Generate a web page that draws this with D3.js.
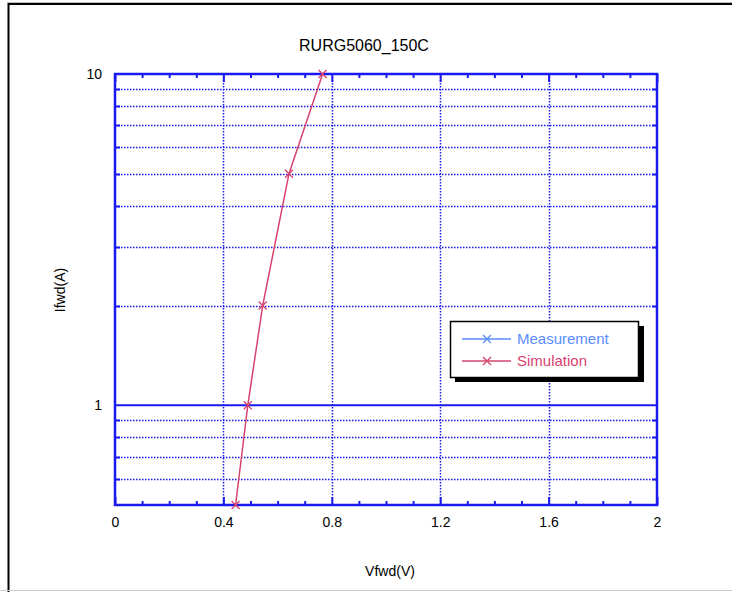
<!DOCTYPE html>
<html><head><meta charset="utf-8">
<script src="https://cdn.jsdelivr.net/npm/d3@7"></script>
<style>body{margin:0;background:#fff}svg{display:block}text{font-family:"Liberation Sans",Arial,sans-serif}</style>
</head><body><div id="c"></div>
<script>
const title = "RURG5060_150C";
const xLabel = "Vfwd(V)";
const yLabel = "Ifwd(A)";
const xTicks = [0, 0.4, 0.8, 1.2, 1.6, 2];
const yTickLabels = [1, 10];
const yGridMinor = [0.6, 0.7, 0.8, 0.9, 2, 3, 4, 5, 6, 7, 8, 9];
const simV = [0.445, 0.49, 0.545, 0.642, 0.766];
const simI = [0.5, 1, 2, 5, 10];
const measV = [];
const measI = [];
const legendNames = ["Measurement", "Simulation"];
const legendColors = ["#5a8cff", "#d8436e"];

const W = 732, H = 592;
const L = 115, R = 657, T = 74, B = 505;
const svg = d3.select("#c").append("svg").attr("width", W).attr("height", H);
// frame
svg.append("line").attr("x1",7).attr("x2",W).attr("y1",2.5).attr("y2",2.5).attr("stroke","#bbb");
svg.append("line").attr("x1",8.5).attr("x2",8.5).attr("y1",3).attr("y2",592).attr("stroke","#000").attr("stroke-width",2);
svg.append("line").attr("x1",8).attr("x2",W).attr("y1",4).attr("y2",4).attr("stroke","#000").attr("stroke-width",2);
svg.append("line").attr("x1",0).attr("x2",W).attr("y1",590.5).attr("y2",590.5).attr("stroke","#ccc");

const x = d3.scaleLinear().domain([0, 2]).range([L, R]);
const y = d3.scaleLog().domain([0.5, 10]).range([B, T]);
const blue = "#1a1aee";

// grid
const g = svg.append("g");
xTicks.slice(1, -1).forEach(v => {
  g.append("line").attr("x1", Math.round(x(v))+0.5).attr("x2", Math.round(x(v))+0.5).attr("y1", T).attr("y2", B)
   .attr("stroke", blue).attr("stroke-dasharray", "1.5,1.5").attr("stroke-width", 1.5);
});
yGridMinor.forEach(v => {
  const yy = Math.round(y(v))+0.5;
  g.append("line").attr("x1", L).attr("x2", R).attr("y1", yy).attr("y2", yy)
   .attr("stroke", blue).attr("stroke-dasharray", "1.5,1.5").attr("stroke-width", 1.5);
  g.append("line").attr("x1", L).attr("x2", L+5).attr("y1", yy).attr("y2", yy).attr("stroke", blue).attr("stroke-width", 2);
  g.append("line").attr("x1", R-5).attr("x2", R).attr("y1", yy).attr("y2", yy).attr("stroke", blue).attr("stroke-width", 2);
});
// major y line at 1
g.append("line").attr("x1", L).attr("x2", R).attr("y1", y(1)).attr("y2", y(1)).attr("stroke", blue).attr("stroke-width", 2);

// x axes with minor ticks
const minorX = d3.range(0, 21).map(i => i / 10);
const axB = d3.axisBottom(x).tickValues(minorX).tickSize(-4).tickFormat("");
const axT = d3.axisTop(x).tickValues(minorX).tickSize(-4).tickFormat("");
[[axB, B], [axT, T]].forEach(([ax, yy]) => {
  const a = svg.append("g").attr("transform", `translate(0,${yy})`).call(ax);
  a.select(".domain").remove();
  a.selectAll("line").attr("stroke", blue).attr("stroke-width", 2);
  const maj = yy === B ? -8 : 8;
  a.selectAll(".tick").filter(d => Math.abs(d*10 % 4) < 1e-6 || Math.abs(d*10 % 4 - 4) < 1e-6).select("line").attr("y2", maj);
});
// frame of plot
svg.append("rect").attr("x", L).attr("y", T).attr("width", R - L).attr("height", B - T)
  .attr("fill", "none").attr("stroke", blue).attr("stroke-width", 2.5);

// tick labels
const xl = svg.append("g").attr("transform", `translate(0,${B})`).call(d3.axisBottom(x).tickValues(xTicks).tickSize(0).tickPadding(12).tickFormat(d => d3.format("~g")(d)));
xl.select(".domain").remove();
xl.selectAll("text").attr("font-size", 14).attr("fill", "#000").attr("font-family", "Liberation Sans, Arial");
const yl = svg.append("g").attr("transform", `translate(${L},0)`).call(d3.axisLeft(y).tickValues(yTickLabels).tickSize(0).tickPadding(13).tickFormat(d => d));
yl.select(".domain").remove();
yl.selectAll("text").attr("font-size", 14).attr("fill", "#000").attr("font-family", "Liberation Sans, Arial");

// titles
svg.append("text").attr("x", 364).attr("y", 51).attr("text-anchor", "middle").attr("font-size", 16).attr("fill", "#000").text(title);
svg.append("text").attr("x", 390).attr("y", 576).attr("text-anchor", "middle").attr("font-size", 14).attr("fill", "#000").text(xLabel);
svg.append("text").attr("transform", "translate(65,290) rotate(-90)").attr("text-anchor", "middle").attr("font-size", 14).attr("fill", "#000").text(yLabel);

// series
const sim = simV.map((v, i) => [v, simI[i]]);
const line = d3.line().x(d => x(d[0])).y(d => y(d[1]));
svg.append("path").datum(sim).attr("d", line).attr("fill", "none").attr("stroke", legendColors[1]).attr("stroke-width", 1.5);
const mk = (sel, cx, cy, col) => {
  const s = 4;
  sel.append("path").attr("d", `M${cx-s},${cy-s}L${cx+s},${cy+s}M${cx-s},${cy+s}L${cx+s},${cy-s}`)
    .attr("stroke", col).attr("stroke-width", 1.3).attr("fill", "none");
};
sim.forEach(d => mk(svg, x(d[0]), y(d[1]), legendColors[1]));

// legend
const lg = svg.append("g");
lg.append("rect").attr("x", 455).attr("y", 326).attr("width", 189).attr("height", 56).attr("fill", "#000");
lg.append("rect").attr("x", 450.5).attr("y", 321.5).attr("width", 188).attr("height", 56).attr("fill", "#fff").attr("stroke", "#000").attr("stroke-width", 1.5);
legendNames.forEach((n, i) => {
  const yy = 339 + i * 22;
  lg.append("line").attr("x1", 462).attr("x2", 511).attr("y1", yy).attr("y2", yy).attr("stroke", legendColors[i]).attr("stroke-width", 1.3);
  mk(lg, 487, yy, legendColors[i]);
  lg.append("text").attr("x", 517).attr("y", yy + 5).attr("font-size", 15).attr("fill", legendColors[i]).text(n);
});
</script></body></html>
